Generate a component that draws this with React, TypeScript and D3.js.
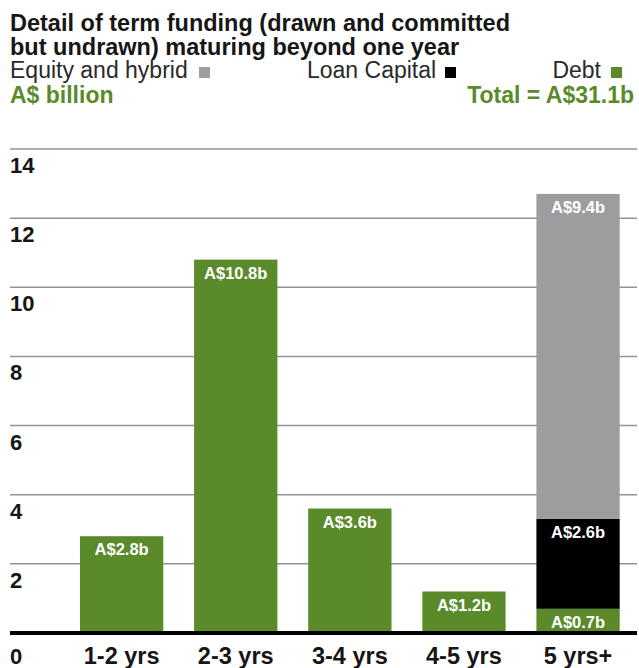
import React from "react";
import * as d3 from "d3";

const categories = ["1-2 yrs", "2-3 yrs", "3-4 yrs", "4-5 yrs", "5 yrs+"];
const debt = [2.8, 10.8, 3.6, 1.2, 0.7];
const loanCapital = [0, 0, 0, 0, 2.6];
const equityHybrid = [0, 0, 0, 0, 9.4];
const yTicks = [0, 2, 4, 6, 8, 10, 12, 14];
const seriesKeys = ["debt", "loan", "equity"];
const seriesNames = ["Debt", "Loan Capital", "Equity and hybrid"];

const W = 639;
const H = 668;
const GREEN = "#5a8a2a";
const GREY = "#9d9d9f";
const BLACK = "#000000";
const colors: Record<string, string> = { debt: GREEN, loan: BLACK, equity: GREY };

const FONT = "'Liberation Sans', Arial, Helvetica, sans-serif";
const CAT_BASELINE = 664;

export default function App() {
  const rows = categories.map((c, i) => ({
    cat: c,
    debt: debt[i],
    loan: loanCapital[i],
    equity: equityHybrid[i],
  }));
  const stacked = d3.stack<any>().keys(seriesKeys)(rows);

  const y = d3.scaleLinear().domain([0, 14]).range([633, 149]);
  const x = d3
    .scaleBand<string>()
    .domain(categories)
    .range([64.6, 635.1])
    .paddingInner(0.27)
    .paddingOuter(0.135);

  const gridX1 = 10;
  const gridX2 = 637;

  return (
    <svg
      width={W}
      height={H}
      style={{ position: "absolute", left: 0, top: 0, background: "#fff" }}
      fontFamily={FONT}
    >
      <rect x={0} y={0} width={W} height={H} fill="#fff" />
      {/* Title */}
      <text x={10} y={31} fontSize={23.5} fontWeight={700} fill="#161616">
        Detail of term funding (drawn and committed
      </text>
      <text x={10} y={54.5} fontSize={23.5} fontWeight={700} fill="#161616">
        but undrawn) maturing beyond one year
      </text>
      {/* Legend */}
      <text x={10} y={78} fontSize={23} fontWeight={400} fill="#2a2a2a">
        {seriesNames[2]}
      </text>
      <rect x={199} y={67} width={11} height={11} fill={GREY} />
      <text x={307} y={78} fontSize={23} fontWeight={400} fill="#2a2a2a">
        {seriesNames[1]}
      </text>
      <rect x={445} y={67} width={11} height={11} fill={BLACK} />
      <text x={601} y={78} fontSize={23} fontWeight={400} fill="#2a2a2a" textAnchor="end">
        {seriesNames[0]}
      </text>
      <rect x={611} y={67} width={11} height={11} fill={GREEN} />
      <text x={10} y={103} fontSize={23} fontWeight={700} fill={GREEN}>
        A$ billion
      </text>
      <text x={634} y={103} fontSize={23} fontWeight={700} fill={GREEN} textAnchor="end">
        Total = A$31.1b
      </text>

      {/* Gridlines */}
      {yTicks
        .filter((t) => t > 0)
        .map((t) => (
          <line
            key={t}
            x1={gridX1}
            x2={gridX2}
            y1={y(t)}
            y2={y(t)}
            stroke="#939393"
            strokeWidth={1.5}
          />
        ))}

      {/* Bars */}
      {stacked.map((s) => (
        <g key={s.key}>
          {s.map((d, i) => {
            const v = d[1] - d[0];
            if (v <= 0) return null;
            const x0 = x(categories[i])!;
            return (
              <g key={i}>
                <rect
                  x={x0}
                  y={y(d[1])}
                  width={x.bandwidth()}
                  height={y(d[0]) - y(d[1])}
                  fill={colors[s.key]}
                />
                <text
                  x={x0 + x.bandwidth() / 2}
                  y={y(d[1]) + 19}
                  textAnchor="middle"
                  fontSize={16.5}
                  fontWeight={700}
                  fill="#fff"
                >
                  {`A$${d3.format(".1f")(v)}b`}
                </text>
              </g>
            );
          })}
        </g>
      ))}

      {/* Axis baseline */}
      <line x1={gridX1} x2={gridX2} y1={y(0)} y2={y(0)} stroke="#000" strokeWidth={4} />

      {/* Y tick labels */}
      {yTicks.map((t) => (
        <text
          key={t}
          x={10}
          y={t === 0 ? CAT_BASELINE : y(t) + 24}
          fontSize={22}
          fontWeight={700}
          fill="#161616"
        >
          {t}
        </text>
      ))}

      {/* Category labels */}
      {categories.map((c) => (
        <text
          key={c}
          x={x(c)! + x.bandwidth() / 2}
          y={CAT_BASELINE}
          textAnchor="middle"
          fontSize={23.5}
          fontWeight={700}
          fill="#161616"
        >
          {c}
        </text>
      ))}
    </svg>
  );
}
